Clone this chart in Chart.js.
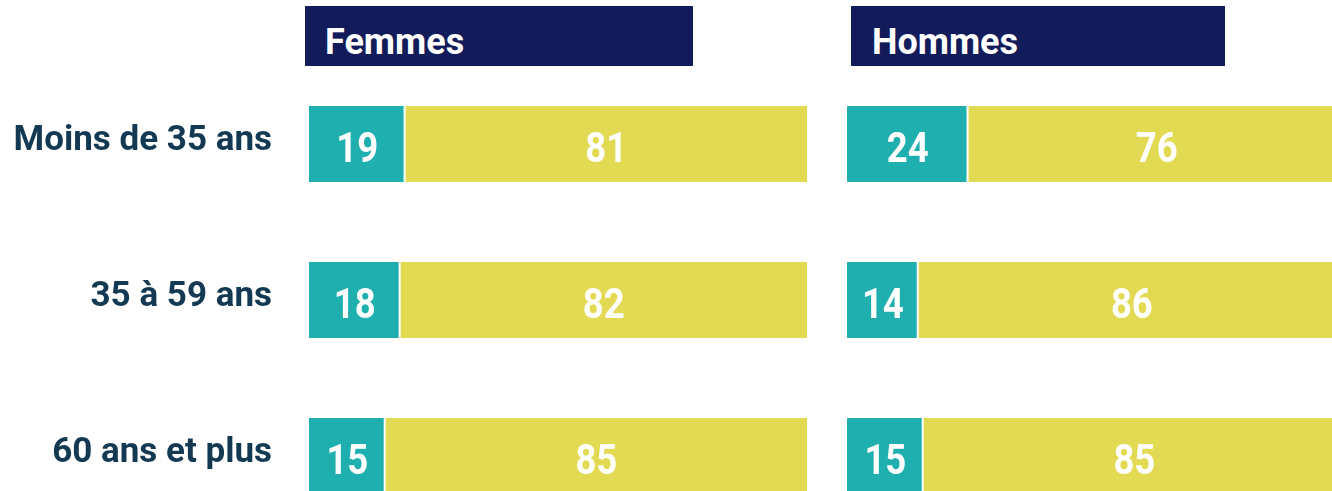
<!DOCTYPE html>
<html>
<head>
<meta charset="utf-8">
<script src="https://cdn.jsdelivr.net/npm/chart.js@4.4.1/dist/chart.umd.min.js"></script>
<style>
  html, body { margin: 0; padding: 0; background: #fff; }
  body { width: 1332px; height: 491px; overflow: hidden; position: relative; }
  .head {
    position: absolute; top: 6px; height: 60px;
    background: #131c5a; color: #fff;
    font: bold 36px Roboto, sans-serif;
    line-height: 46px; padding-top: 13px; box-sizing: border-box;
  }
  .wrap { position: absolute; top: 0; height: 534px; }
</style>
</head>
<body>
<div class="head" style="left:305px;width:388px;padding-left:20px;">Femmes</div>
<div class="head" style="left:851px;width:374px;padding-left:21px;">Hommes</div>
<div class="wrap" style="left:0;width:807px;"><canvas id="femmes"></canvas></div>
<div class="wrap" style="left:847px;width:498px;"><canvas id="hommes"></canvas></div>
<script>
const ageGroups = ['Moins de 35 ans', '35 à 59 ans', '60 ans et plus'];
const femmesA = [19, 18, 15];
const femmesB = [81, 82, 85];
const hommesA = [24, 14, 15];
const hommesB = [76, 86, 85];

const teal = '#1eafae';
const yellow = '#e2da52';

// values in white, condensed a little to look like the original face
const valueLabels = {
  id: 'valueLabels',
  afterDatasetsDraw(chart) {
    const ctx = chart.ctx;
    chart.data.datasets.forEach((ds, i) => {
      chart.getDatasetMeta(i).data.forEach((bar, j) => {
        const p = bar.getProps(['x', 'y', 'base'], true);
        ctx.save();
        ctx.translate((p.x + p.base) / 2 + 1, p.y + 18);
        ctx.scale(0.87, 1);
        ctx.fillStyle = '#fff';
        ctx.font = 'bold 42px Roboto, sans-serif';
        ctx.textAlign = 'center';
        ctx.textBaseline = 'alphabetic';
        ctx.fillText(ds.data[j], 0, 0);
        ctx.restore();
      });
    });
  }
};

function makeChart(id, a, b, showLabels) {
  return new Chart(document.getElementById(id), {
    type: 'bar',
    data: {
      labels: ageGroups,
      datasets: [
        { data: a, backgroundColor: teal, borderWidth: 0 },
        { data: b, backgroundColor: yellow, borderColor: '#fff',
          borderWidth: { left: 2, right: 0, top: 0, bottom: 0 }, borderSkipped: false }
      ]
    },
    options: {
      indexAxis: 'y',
      responsive: true,
      maintainAspectRatio: false,
      animation: false,
      layout: { padding: { top: 66, left: 0, right: 0, bottom: 0 } },
      datasets: { bar: { categoryPercentage: 1, barPercentage: 0.487 } },
      plugins: { legend: { display: false }, tooltip: { enabled: false } },
      scales: {
        x: { stacked: true, min: 0, max: 100, display: false },
        y: {
          stacked: true,
          display: showLabels,
          grid: { display: false, drawTicks: false },
          border: { display: false },
          ticks: {
            color: '#133a52',
            font: { family: 'Roboto', weight: 'bold', size: 35 },
            padding: 37,
            labelOffset: -3
          },
          afterFit(scale) {
            scale.width = showLabels ? 309 : 0;
            scale.paddingTop = 0;
            scale.paddingBottom = 0;
          }
        }
      }
    },
    plugins: [valueLabels]
  });
}

makeChart('femmes', femmesA, femmesB, true);
makeChart('hommes', hommesA, hommesB, false);
</script>
</body>
</html>
